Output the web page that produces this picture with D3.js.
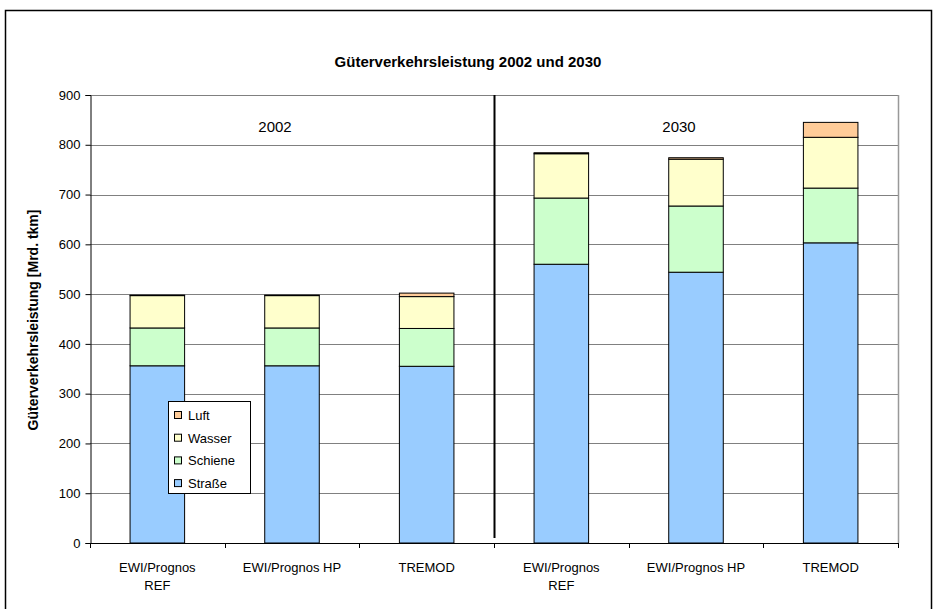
<!DOCTYPE html>
<html>
<head>
<meta charset="utf-8">
<script src="https://cdn.jsdelivr.net/npm/d3@7/dist/d3.min.js"></script>
<style>
  html, body { margin: 0; padding: 0; background: #fff; }
  svg { display: block; }
  text { font-family: "Liberation Sans", Arial, sans-serif; fill: #000; }
</style>
</head>
<body>
<svg id="chart" width="937" height="609"></svg>
<script>
// ---- data ----
const categories = ["EWI/Prognos REF", "EWI/Prognos HP", "TREMOD", "EWI/Prognos REF", "EWI/Prognos HP", "TREMOD"];
const categoryLines = [["EWI/Prognos", "REF"], ["EWI/Prognos HP"], ["TREMOD"], ["EWI/Prognos", "REF"], ["EWI/Prognos HP"], ["TREMOD"]];
const years = ["2002", "2030"];
const seriesNames = ["Straße", "Schiene", "Wasser", "Luft"];
const strasse = [356, 356, 355, 560, 544, 603];
const schiene = [76, 76, 76, 133, 133, 110];
const wasser  = [65, 65, 64, 89, 94, 102];
const luft    = [1, 1, 7, 2, 3, 30];
const yTicks = [0, 100, 200, 300, 400, 500, 600, 700, 800, 900];
const title = "Güterverkehrsleistung 2002 und 2030";
const yTitle = "Güterverkehrsleistung [Mrd. tkm]";

const colors = { "Straße": "#99CCFF", "Schiene": "#CCFFCC", "Wasser": "#FFFFCC", "Luft": "#FFCC99" };
const seriesValues = { "Straße": strasse, "Schiene": schiene, "Wasser": wasser, "Luft": luft };

const rows = categories.map((c, i) => {
  const r = { idx: i };
  seriesNames.forEach(s => r[s] = seriesValues[s][i]);
  return r;
});

const svg = d3.select("#chart");
const pLeft = 90, pRight = 898, pTop = 95, pBottom = 543;

// outer frame
svg.append("rect").attr("x", 5.5).attr("y", 10.5).attr("width", 926).attr("height", 620)
  .attr("fill", "none").attr("stroke", "#000").attr("stroke-width", 1.5);

const x = d3.scaleBand().domain(d3.range(categories.length)).range([pLeft, pRight])
  .paddingInner(0.595).paddingOuter(0.2975);
const step = (pRight - pLeft) / categories.length;
const y = d3.scaleLinear().domain([0, 900]).range([pBottom, pTop]);

// gridlines
svg.append("g").selectAll("line").data(yTicks.filter(d => d > 0)).join("line")
  .attr("x1", pLeft).attr("x2", pRight)
  .attr("y1", d => Math.round(y(d)) + 0.5).attr("y2", d => Math.round(y(d)) + 0.5)
  .attr("stroke", "#808080").attr("stroke-width", 1);
// right plot border
svg.append("line").attr("x1", pRight + 0.5).attr("x2", pRight + 0.5).attr("y1", pTop).attr("y2", pBottom)
  .attr("stroke", "#999").attr("stroke-width", 1.5);

// bars
const stack = d3.stack().keys(seriesNames);
const stacked = stack(rows);
svg.append("g").selectAll("g").data(stacked).join("g")
  .attr("fill", d => colors[d.key])
  .selectAll("rect").data(d => d).join("rect")
  .attr("x", d => x(d.data.idx))
  .attr("width", x.bandwidth())
  .attr("y", d => y(d[1]))
  .attr("height", d => y(d[0]) - y(d[1]))
  .attr("stroke", "#000").attr("stroke-width", 1);

// y axis
const yAxis = d3.axisLeft(y).tickValues(yTicks).tickSize(5).tickPadding(5).tickFormat(d3.format("d"));
const gy = svg.append("g").attr("transform", `translate(${pLeft + 0.5},0)`).call(yAxis);
gy.selectAll("text").style("font-size", "13px").attr("font-family", "Liberation Sans, Arial, sans-serif");
gy.select(".domain").attr("stroke", "#000");
gy.selectAll(".tick line").attr("stroke", "#000");

// x axis line
svg.append("line").attr("x1", pLeft).attr("x2", pRight + 1).attr("y1", pBottom + 0.5).attr("y2", pBottom + 0.5)
  .attr("stroke", "#000").attr("stroke-width", 1);
// x ticks at category boundaries
svg.append("g").selectAll("line").data(d3.range(categories.length + 1)).join("line")
  .attr("x1", i => Math.round(pLeft + i * step) + 0.5).attr("x2", i => Math.round(pLeft + i * step) + 0.5)
  .attr("y1", pBottom).attr("y2", pBottom + 5)
  .attr("stroke", "#000");
// x labels
const xl = svg.append("g").selectAll("text").data(categoryLines).join("text")
  .attr("x", (d, i) => x(i) + x.bandwidth() / 2)
  .attr("y", 572)
  .attr("text-anchor", "middle")
  .style("font-size", "13px");
xl.selectAll("tspan").data(d => d).join("tspan")
  .attr("x", function () { return d3.select(this.parentNode).attr("x"); })
  .attr("dy", (d, j) => j === 0 ? 0 : 18)
  .text(d => d);

// divider between years
svg.append("line")
  .attr("x1", Math.round(pLeft + 3 * step) + 0.5).attr("x2", Math.round(pLeft + 3 * step) + 0.5)
  .attr("y1", pTop).attr("y2", 538)
  .attr("stroke", "#000").attr("stroke-width", 2);

// year labels
svg.append("g").selectAll("text").data(years).join("text")
  .attr("x", (d, i) => pLeft + step * (1.5 + 3 * i) - 17)
  .attr("y", 132)
  .attr("text-anchor", "middle")
  .style("font-size", "15px")
  .text(d => d);

// title
svg.append("text").attr("x", 468).attr("y", 67).attr("text-anchor", "middle")
  .style("font-size", "15px").style("font-weight", "bold").text(title);

// y title
svg.append("text").attr("transform", "translate(38,320) rotate(-90)").attr("text-anchor", "middle")
  .style("font-size", "14px").style("font-weight", "bold").text(yTitle);

// legend
const lg = svg.append("g");
lg.append("rect").attr("x", 168.5).attr("y", 401.5).attr("width", 82).attr("height", 92)
  .attr("fill", "#fff").attr("stroke", "#000").attr("stroke-width", 1);
const legendOrder = seriesNames.slice().reverse();
const li = lg.selectAll("g.item").data(legendOrder).join("g").attr("class", "item")
  .attr("transform", (d, i) => `translate(174,${415 + i * 22.7})`);
li.append("rect").attr("x", 0.5).attr("y", -3.5).attr("width", 7).attr("height", 7)
  .attr("fill", d => colors[d]).attr("stroke", "#000").attr("stroke-width", 1);
li.append("text").attr("x", 14).attr("y", 5).style("font-size", "13px").text(d => d);
</script>
</body>
</html>
